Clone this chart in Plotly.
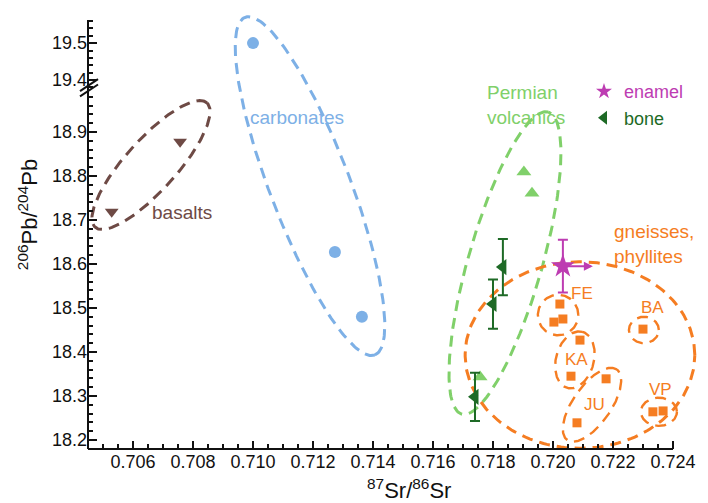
import numpy as np
import plotly.graph_objects as go

# ---------------- data ----------------
basalt_sr = [0.70529, 0.70757]
basalt_pb = [18.719, 18.878]

carb_sr = [0.71000, 0.71273, 0.71363]
carb_pb = [19.500, 18.627, 18.480]

perm_sr = [0.71903, 0.71930, 0.71757]
perm_pb = [18.809, 18.761, 18.343]

gneiss_site = ["FE", "FE", "FE", "KA", "KA", "JU", "JU", "BA", "VP", "VP"]
gneiss_sr = [0.72023, 0.72033, 0.72003, 0.72090, 0.72060, 0.72177, 0.72080, 0.72300, 0.72333, 0.72367]
gneiss_pb = [18.509, 18.475, 18.468, 18.427, 18.345, 18.339, 18.239, 18.452, 18.264, 18.266]

bone_sr = [0.71833, 0.71800, 0.71740]
bone_pb = [18.593, 18.509, 18.298]
bone_err_pb = [0.064, 0.056, 0.055]

enamel_sr = [0.72033]
enamel_pb = [18.595]
enamel_err_pb = [0.060]
enamel_err_sr = [0.0010]

x_tick_vals = [0.706, 0.708, 0.710, 0.712, 0.714, 0.716, 0.718, 0.720, 0.722, 0.724]
y_tick_lower = [18.2, 18.3, 18.4, 18.5, 18.6, 18.7, 18.8, 18.9]
y_tick_upper = [19.4, 19.5]

# ---------------- layout geometry ----------------
W, H = 708, 503
ML, MR, MT, MB = 88, 6, 0, 54
X_AXIS_END = 0.7240                    # drawn axis extent
Y_AXIS_TOP = 19.1545                   # drawn axis extent (display units)
X_RANGE = [0.7045, 0.724967]           # a little room so outlines are not cut
Y_RANGE = [18.1795, 19.2]              # in displayed (broken-axis) units

# broken axis: values above the break are drawn on a compressed upper segment
UPPER_BASE, UPPER_AT, UPPER_SCALE = 19.4, 19.018, 0.84


def to_p(v):
    return v if v < 19.2 else UPPER_AT + (v - UPPER_BASE) * UPPER_SCALE


def to_p_list(vals):
    return [to_p(v) for v in vals]


plot_w = W - ML - MR
plot_h = H - MT - MB
ASPECT = (plot_w / (X_RANGE[1] - X_RANGE[0])) / (plot_h / (Y_RANGE[1] - Y_RANGE[0]))

C_CARB = "#7DB0E6"
C_BAS = "#6E4A45"
C_PERM = "#80D06A"
C_BONE = "#1E6A26"
C_ENAM = "#BD3CB2"
C_GN = "#F57D22"
FONT = "Liberation Sans, Arial, sans-serif"

fig = go.Figure()

# ---------------- grouping ellipses (centre x, centre y, a, b in y-units, angle) -------------
ellipses = [
    (0.70660, 18.825, 0.190, 0.058, 48, C_BAS, 3.0),
    (0.71190, 18.777, 0.411, 0.091, -69, C_CARB, 3.0),
    (0.71840, 18.602, 0.357, 0.084, 74, C_PERM, 3.0),
    (0.72090, 18.393, 0.261, 0.212, 0, C_GN, 3.0),
    (0.72017, 18.484, 0.046, 0.046, 0, C_GN, 2.4),
    (0.72303, 18.450, 0.034, 0.030, 0, C_GN, 2.4),
    (0.72073, 18.382, 0.066, 0.043, 75, C_GN, 2.4),
    (0.72130, 18.280, 0.098, 0.043, 55, C_GN, 2.4),
    (0.72353, 18.264, 0.041, 0.032, 0, C_GN, 2.4),
]
t = np.linspace(0, 2 * np.pi, 200)
for xc, yc, a, b, ang, col, lw in ellipses:
    th = np.radians(ang)
    ex = xc + (a * np.cos(t) * np.cos(th) - b * np.sin(t) * np.sin(th)) / ASPECT
    ey = yc + a * np.cos(t) * np.sin(th) + b * np.sin(t) * np.cos(th)
    fig.add_trace(go.Scatter(x=ex, y=ey, mode="lines", showlegend=False, hoverinfo="skip",
                             line=dict(color=col, width=lw, dash="11px,7px")))

# ---------------- data points ----------------
fig.add_trace(go.Scatter(x=basalt_sr, y=to_p_list(basalt_pb), mode="markers", showlegend=False,
                         marker=dict(symbol="triangle-down", size=12, color=C_BAS)))
fig.add_trace(go.Scatter(x=carb_sr, y=to_p_list(carb_pb), mode="markers", showlegend=False,
                         marker=dict(symbol="circle", size=12, color=C_CARB)))
fig.add_trace(go.Scatter(x=perm_sr, y=to_p_list(perm_pb), mode="markers", showlegend=False,
                         marker=dict(symbol="triangle-up", size=13, color=C_PERM)))
fig.add_trace(go.Scatter(x=gneiss_sr, y=to_p_list(gneiss_pb), mode="markers", showlegend=False,
                         text=gneiss_site,
                         marker=dict(symbol="square", size=9, color=C_GN)))

# enamel horizontal arrow (one-sided x uncertainty)
for sx, sy, ex_ in zip(enamel_sr, enamel_pb, enamel_err_sr):
    fig.add_annotation(x=sx + ex_, y=to_p(sy), ax=sx, ay=to_p(sy), xref="x", yref="y",
                       axref="x", ayref="y", text="", showarrow=True, arrowhead=2,
                       arrowsize=0.9, arrowwidth=2, arrowcolor=C_ENAM)

fig.add_trace(go.Scatter(x=enamel_sr, y=to_p_list(enamel_pb), mode="markers",
                         name='<span style="color:%s">enamel</span>' % C_ENAM,
                         marker=dict(symbol="star", size=18, color=C_ENAM),
                         error_y=dict(type="data", array=enamel_err_pb, color=C_ENAM,
                                      thickness=2, width=5)))
fig.add_trace(go.Scatter(x=bone_sr, y=to_p_list(bone_pb), mode="markers",
                         name='<span style="color:%s">bone</span>' % C_BONE,
                         marker=dict(symbol="triangle-left", size=14, color=C_BONE),
                         error_y=dict(type="data", array=bone_err_pb, color=C_BONE,
                                      thickness=2, width=5)))

# ---------------- group labels ----------------
labels = [
    ("basalts", 0.70657, 18.716, C_BAS, 19, "left"),
    ("carbonates", 0.71147, 18.932, C_CARB, 19, "center"),
    ("Permian<br>volcanics", 0.71773, 18.962, C_PERM, 19, "left"),
    ("gneisses,<br>phyllites", 0.72197, 18.645, C_GN, 19, "left"),
    ("FE", 0.72097, 18.534, C_GN, 17, "center"),
    ("BA", 0.72333, 18.500, C_GN, 17, "center"),
    ("KA", 0.72077, 18.382, C_GN, 17, "center"),
    ("JU", 0.72137, 18.280, C_GN, 17, "center"),
    ("VP", 0.72357, 18.314, C_GN, 17, "center"),
]
for txt, lx, ly, col, fs, al in labels:
    fig.add_annotation(x=lx, y=ly, xref="x", yref="y", text=txt, showarrow=False,
                       xanchor=al, yanchor="middle", align="left",
                       font=dict(family=FONT, size=fs, color=col))

# axis titles
fig.add_annotation(x=0.7152, xref="x", y=-0.089, yref="paper",
                   text="<sup>87</sup>Sr/<sup>86</sup>Sr", showarrow=False,
                   xanchor="center", yanchor="middle",
                   font=dict(family=FONT, size=22, color="#111"))
fig.add_annotation(x=-0.0977, xref="paper", y=18.711, yref="y",
                   text="<sup>206</sup>Pb/<sup>204</sup>Pb", showarrow=False, textangle=-90,
                   xanchor="center", yanchor="middle",
                   font=dict(family=FONT, size=22, color="#111"))

# axis lines (drawn only over the labelled extent)
fig.add_shape(type="line", xref="x", yref="y domain", x0=X_RANGE[0], x1=X_AXIS_END, y0=0, y1=0,
              line=dict(color="#111", width=2))
fig.add_shape(type="line", xref="x domain", yref="y", x0=0, x1=0, y0=Y_RANGE[0], y1=Y_AXIS_TOP,
              line=dict(color="#111", width=2))

# axis break marks
for off in (0.0, -0.012):
    fig.add_shape(type="line", xref="paper", yref="y",
                  x0=-0.013, y0=18.993 + off, x1=0.0163, y1=19.020 + off,
                  line=dict(color="#111", width=2))

# ---------------- axes ----------------
y_tick_p = y_tick_lower + [to_p(v) for v in y_tick_upper]
y_tick_txt = ["%.1f" % v for v in y_tick_lower + y_tick_upper]
y_minor = [round(18.2 + 0.02 * i, 2) for i in range(0, 40)]
y_minor = [v for v in y_minor if round(v * 10, 6) != round(v * 10) and v < 18.99]
y_minor += [to_p(round(19.38 + 0.02 * i, 2)) for i in range(0, 10)
            if round(19.38 + 0.02 * i, 2) not in (19.4, 19.5)]
x_minor = [round(0.7045 + 0.0005 * i, 4) for i in range(0, 40)]
x_minor = [v for v in x_minor if v <= X_AXIS_END + 1e-9 and v not in x_tick_vals]

fig.update_xaxes(range=X_RANGE, tickvals=x_tick_vals, tickformat=".3f",
                 ticks="inside", ticklen=8, tickwidth=2, tickcolor="#111",
                 showline=False, showgrid=False, zeroline=False,
                 minor=dict(tickvals=x_minor, ticks="inside", ticklen=5,
                            tickwidth=1.5, tickcolor="#111", showgrid=False),
                 tickfont=dict(family=FONT, size=18, color="#111"))
fig.update_yaxes(range=Y_RANGE, tickvals=y_tick_p, ticktext=y_tick_txt,
                 ticks="inside", ticklen=9, tickwidth=2, tickcolor="#111",
                 showline=False, showgrid=False, zeroline=False,
                 minor=dict(tickvals=y_minor, ticks="inside", ticklen=5,
                            tickwidth=1.5, tickcolor="#111", showgrid=False),
                 tickfont=dict(family=FONT, size=18, color="#111"))

fig.update_layout(
    width=W, height=H,
    margin=dict(l=ML, r=MR, t=MT, b=MB),
    paper_bgcolor="white", plot_bgcolor="white",
    font=dict(family=FONT, size=17, color="#111"),
    legend=dict(x=0.8078, y=0.837, xanchor="left", yanchor="top",
                bgcolor="rgba(0,0,0,0)", font=dict(family=FONT, size=18),
                tracegroupgap=0, itemsizing="constant"),
)

fig.write_html("out.html", config={"displayModeBar": False},
               post_script="document.body.style.margin='0px';document.body.style.overflow='hidden';")
